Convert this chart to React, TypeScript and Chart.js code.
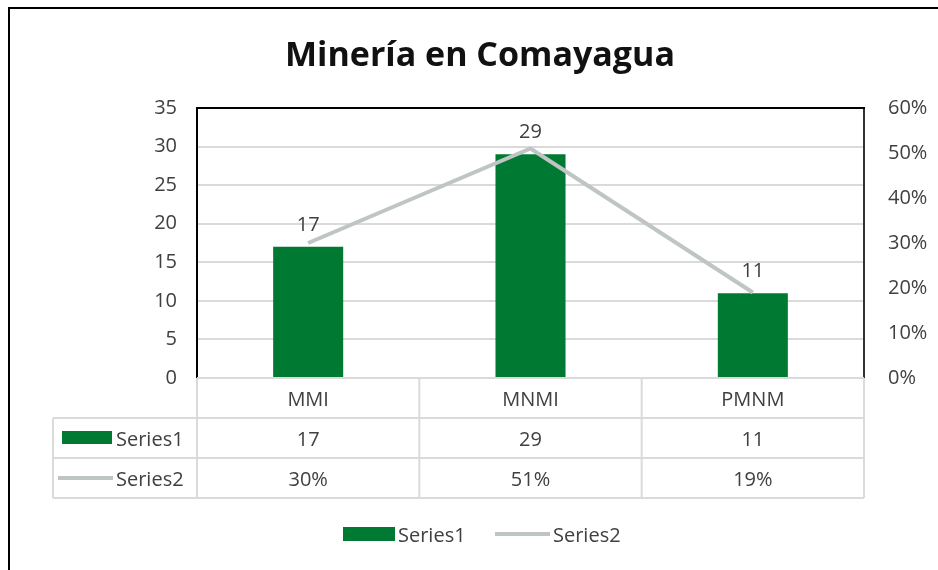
import React, { useEffect, useRef } from "react";
import { Chart, registerables } from "chart.js";

Chart.register(...registerables);

const title = "Minería en Comayagua";
const categories = ["MMI", "MNMI", "PMNM"];
const series1Label = "Series1";
const series2Label = "Series2";
const series1 = [17, 29, 11];
const series2 = [0.3, 0.51, 0.19];
const series2Text = ["30%", "51%", "19%"];
const leftTicks = { min: 0, max: 35, step: 5 };
const rightTicks = { min: 0, max: 0.6, step: 0.1 };

const GREEN = "#007A33";
const GRAY_LINE = "#BFC4C4";
const TABLE_LINE = "#DADADA";
const TEXT = "#404040";
const FONT = "'Open Sans', 'Noto Sans', sans-serif";
const FS = 20;

const overlayPlugin = {
  id: "overlay",
  afterDraw(chart: any) {
    const ctx = chart.ctx as CanvasRenderingContext2D;
    const area = chart.chartArea;
    const xs = chart.scales.x;
    const n = categories.length;
    const colW = (area.right - area.left) / n;
    const dy = 2;
    ctx.save();

    // outer frame
    ctx.strokeStyle = "#000";
    ctx.lineWidth = 2;
    ctx.beginPath();
    ctx.moveTo(9, 570);
    ctx.lineTo(9, 8);
    ctx.lineTo(938, 8);
    ctx.stroke();

    // plot top border
    ctx.beginPath();
    ctx.moveTo(area.left - 1, area.top);
    ctx.lineTo(area.right + 1, area.top);
    ctx.stroke();

    // title
    ctx.fillStyle = "#111";
    ctx.font = `bold 34px ${FONT}`;
    ctx.textAlign = "center";
    ctx.textBaseline = "middle";
    ctx.fillText(title, 480, 56);

    // data labels above bars
    const meta = chart.getDatasetMeta(1);
    ctx.fillStyle = TEXT;
    ctx.font = `${FS}px ${FONT}`;
    meta.data.forEach((bar: any, i: number) => {
      ctx.fillText(String(series1[i]), bar.x, bar.y - 24 + dy);
    });

    // data table
    const rowH = 40;
    const top = area.bottom;
    const tableLeft = 53;
    ctx.strokeStyle = TABLE_LINE;
    ctx.lineWidth = 2;
    ctx.beginPath();
    ctx.moveTo(area.left, top);
    ctx.lineTo(area.right, top);
    for (let r = 1; r <= 3; r++) {
      ctx.moveTo(tableLeft, top + r * rowH);
      ctx.lineTo(area.right, top + r * rowH);
    }
    for (let c = 0; c <= n; c++) {
      const x = area.left + c * colW;
      ctx.moveTo(x, top);
      ctx.lineTo(x, top + 3 * rowH);
    }
    ctx.moveTo(tableLeft, top + rowH);
    ctx.lineTo(tableLeft, top + 3 * rowH);
    ctx.stroke();

    ctx.fillStyle = TEXT;
    ctx.font = `${FS}px ${FONT}`;
    ctx.textAlign = "center";
    categories.forEach((c, i) => {
      const x = xs.getPixelForValue(i);
      ctx.fillText(c, x, top + rowH * 0.5 + dy);
      ctx.fillText(String(series1[i]), x, top + rowH * 1.5 + dy);
      ctx.fillText(series2Text[i], x, top + rowH * 2.5 + dy);
    });

    // table legend keys
    ctx.fillStyle = GREEN;
    ctx.fillRect(62, top + rowH * 1.5 - 7, 50, 13);
    ctx.strokeStyle = GRAY_LINE;
    ctx.lineWidth = 4;
    ctx.beginPath();
    ctx.moveTo(58, top + rowH * 2.5);
    ctx.lineTo(113, top + rowH * 2.5);
    ctx.stroke();
    ctx.fillStyle = TEXT;
    ctx.textAlign = "left";
    ctx.fillText(series1Label, 116, top + rowH * 1.5 + dy);
    ctx.fillText(series2Label, 116, top + rowH * 2.5 + dy);

    // bottom legend
    const ly = 534;
    ctx.fillStyle = GREEN;
    ctx.fillRect(343, ly - 7, 52, 14);
    ctx.fillStyle = TEXT;
    ctx.fillText(series1Label, 398, ly + dy);
    ctx.strokeStyle = GRAY_LINE;
    ctx.beginPath();
    ctx.moveTo(495, ly);
    ctx.lineTo(550, ly);
    ctx.stroke();
    ctx.fillText(series2Label, 553, ly + dy);

    ctx.restore();
  },
};

export default function App() {
  const ref = useRef<HTMLCanvasElement>(null);
  useEffect(() => {
    if (!ref.current) return;
    const chart = new Chart(ref.current, {
      type: "bar",
      data: {
        labels: categories,
        datasets: [
          {
            type: "line",
            label: series2Label,
            data: series2,
            yAxisID: "y1",
            borderColor: GRAY_LINE,
            backgroundColor: GRAY_LINE,
            borderWidth: 4,
            pointRadius: 0,
            order: 1,
          } as any,
          {
            type: "bar",
            label: series1Label,
            data: series1,
            yAxisID: "y",
            backgroundColor: GREEN,
            barPercentage: 0.315,
            categoryPercentage: 1,
            order: 2,
          },
        ],
      },
      options: {
        animation: false,
        responsive: false,
        layout: { padding: { top: 108, bottom: 192, left: 0, right: 0 } },
        plugins: { legend: { display: false }, title: { display: false }, tooltip: { enabled: false } },
        scales: {
          x: { display: false, offset: true },
          y: {
            position: "left",
            min: leftTicks.min,
            max: leftTicks.max,
            ticks: { stepSize: leftTicks.step, padding: 20, color: TEXT, font: { family: FONT, size: FS } },
            grid: { color: TABLE_LINE, lineWidth: 2, drawTicks: false },
            border: { color: "#000", width: 2 },
            afterFit: (s: any) => { s.width = 197; },
          },
          y1: {
            position: "right",
            min: rightTicks.min,
            max: rightTicks.max,
            ticks: {
              stepSize: rightTicks.step,
              padding: 24,
              color: TEXT,
              font: { family: FONT, size: FS },
              callback: (v: any) => `${Math.round(Number(v) * 100)}%`,
            },
            grid: { drawOnChartArea: false, drawTicks: false },
            border: { color: "#333", width: 2 },
            afterFit: (s: any) => { s.width = 74; },
          },
        },
      },
      plugins: [overlayPlugin],
    });
    return () => chart.destroy();
  }, []);
  return (
    <div style={{ position: "absolute", left: 0, top: 0, width: 938, height: 570, background: "#fff" }}>
      <canvas ref={ref} width={938} height={570} />
    </div>
  );
}
